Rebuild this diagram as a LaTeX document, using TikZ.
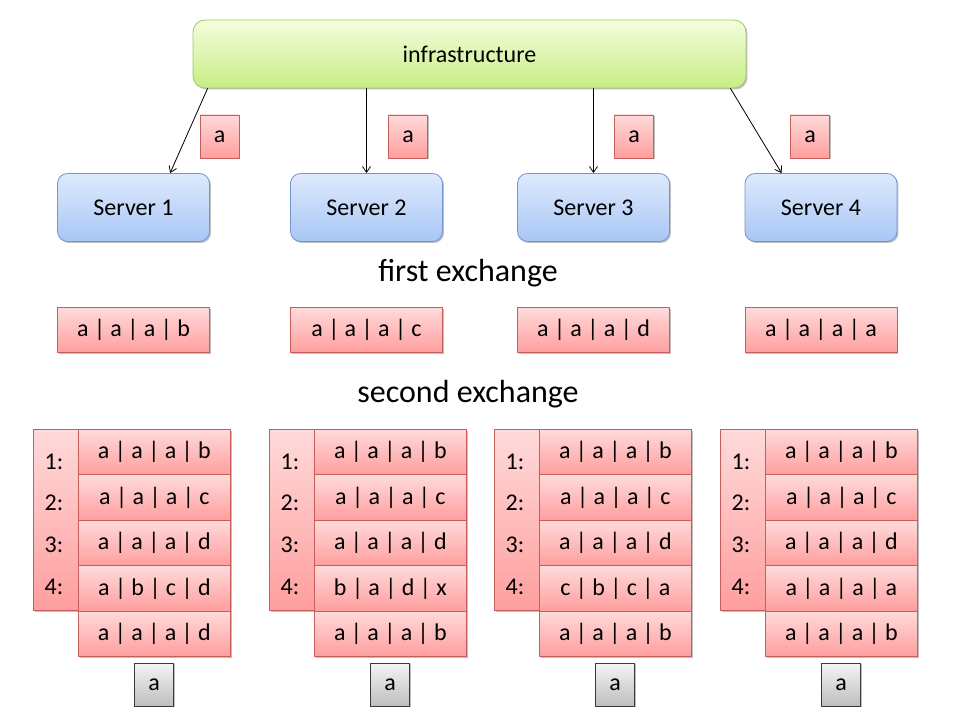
\documentclass[tikz,border=0pt]{standalone}
\usepackage{fontspec}
\setmainfont{Carlito}
\usetikzlibrary{shadows,arrows.meta}
\definecolor{redtop}{HTML}{FFDADA}
\definecolor{redbot}{HTML}{FF9E9E}
\definecolor{redline}{HTML}{C65F5C}
\definecolor{bluetop}{HTML}{DEEAFC}
\definecolor{bluebot}{HTML}{A8C6F5}
\definecolor{blueline}{HTML}{7296D4}
\definecolor{greentop}{HTML}{F5FDDD}
\definecolor{greenbot}{HTML}{C6EE84}
\definecolor{greenline}{HTML}{A0C864}
\definecolor{graytop}{HTML}{F5F5F5}
\definecolor{graybot}{HTML}{BEBEBE}
\definecolor{grayline}{HTML}{3A3A3A}
\newcommand\mytable[7]{%
  \node[redbox, minimum width=45*0.75pt, minimum height=181*0.75pt, anchor=north west] (#1idx) at (#2,429) {};
  \foreach \n/\yy in {1/462,2/503,3/545,4/587}
    \node[txt] (#1l\n) at (#2+21,\yy) {\n:};
  \node[redbox, rowbox, anchor=north west] (#1r1) at (#2+45,429) {#3};
  \node[redbox, rowbox, anchor=north west] (#1r2) at (#2+45,474.4) {#4};
  \node[redbox, rowbox, anchor=north west] (#1r3) at (#2+45,519.8) {#5};
  \node[redbox, rowbox, anchor=north west] (#1r4) at (#2+45,565.2) {#6};
  \node[redbox, rowbox, anchor=north west] (#1r5) at (#2+45,610.6) {#7};
  \node[graybox] (#1g) at (#2+121,684.5) {a};
}
\begin{document}
\begin{tikzpicture}[x=0.75pt,y=-0.75pt,
  txt/.style={font=\fontsize{18}{21}\selectfont, inner sep=0pt},
  shad/.style={drop shadow={shadow xshift=1.1pt, shadow yshift=-1.1pt, opacity=0.25, fill=black}},
  redbox/.style={draw=redline, line width=0.6pt, top color=redtop, bottom color=redbot, shad, inner sep=0pt, font=\fontsize{18}{21}\selectfont},
  rowbox/.style={minimum width=152*0.75pt, minimum height=45.4*0.75pt},
  smallbox/.style={minimum width=39*0.75pt, minimum height=43*0.75pt},
  graybox/.style={draw=grayline, line width=0.6pt, top color=graytop, bottom color=graybot, shad, inner sep=0pt, smallbox, font=\fontsize{18}{21}\selectfont},
  server/.style={draw=blueline, line width=0.6pt, top color=bluetop, bottom color=bluebot, shad, rounded corners=7.5pt, minimum width=152*0.75pt, minimum height=68*0.75pt, inner sep=0pt, font=\fontsize{18}{21}\selectfont},
  big/.style={font=\fontsize{24}{29}\selectfont, inner sep=0pt},
  arr/.style={line width=0.6pt, -{Straight Barb[length=4.5pt,width=6pt]}}]
\useasboundingbox[fill=white] (0,0) rectangle (960,720);

\node[draw=greenline, line width=0.6pt, top color=greentop, bottom color=greenbot, shad, rounded corners=9pt,
  minimum width=553*0.75pt, minimum height=68*0.75pt, inner sep=0pt, font=\fontsize{18}{21}\selectfont] (infra) at (469.5,54) {infrastructure};

\node[server] (s1) at (133.5,207.5) {Server 1};
\node[server] (s2) at (366.5,207.5) {Server 2};
\node[server] (s3) at (593.5,207.5) {Server 3};
\node[server] (s4) at (821,207.5) {Server 4};

\node[redbox, smallbox] (m1) at (219.5,136.5) {a};
\node[redbox, smallbox] (m2) at (408,136.5) {a};
\node[redbox, smallbox] (m3) at (634,136.5) {a};
\node[redbox, smallbox] (m4) at (810,136.5) {a};

\draw[arr] ([xshift=15*0.75pt]infra.south west) -- ([xshift=113*0.75pt]s1.north west);
\draw[arr] (infra.south -| s2.north) -- (s2.north);
\draw[arr] (infra.south -| s3.north) -- (s3.north);
\draw[arr] ([xshift=-16*0.75pt]infra.south east) -- ([xshift=37*0.75pt]s4.north west);

\node[big] (fe) at (468,273) {first exchange};

\node[redbox, rowbox, minimum height=45*0.75pt] (f1) at (133.5,330) {a | a | a | b};
\node[redbox, rowbox, minimum height=45*0.75pt] (f2) at (366.5,330) {a | a | a | c};
\node[redbox, rowbox, minimum height=45*0.75pt] (f3) at (593.5,330) {a | a | a | d};
\node[redbox, rowbox, minimum height=45*0.75pt] (f4) at (821,330) {a | a | a | a};

\node[big] (se) at (468,394) {second exchange};

\mytable{ta}{33}{a | a | a | b}{a | a | a | c}{a | a | a | d}{a | b | c | d}{a | a | a | d}
\mytable{tb}{269}{a | a | a | b}{a | a | a | c}{a | a | a | d}{b | a | d | x}{a | a | a | b}
\mytable{tc}{494}{a | a | a | b}{a | a | a | c}{a | a | a | d}{c | b | c | a}{a | a | a | b}
\mytable{td}{720}{a | a | a | b}{a | a | a | c}{a | a | a | d}{a | a | a | a}{a | a | a | b}
\end{tikzpicture}
\end{document}
